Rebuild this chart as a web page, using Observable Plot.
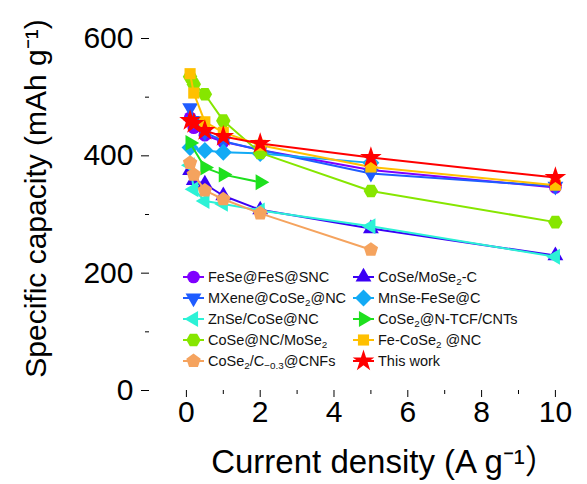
<!DOCTYPE html>
<html><head><meta charset="utf-8">
<script src="https://cdn.jsdelivr.net/npm/d3@7"></script>
<script src="https://cdn.jsdelivr.net/npm/@observablehq/plot@0.6"></script>
<style>
body{margin:0;background:#fff;}
#wrap{position:relative;width:587px;height:484px;font-family:"Liberation Sans",Arial,sans-serif;overflow:hidden}
.leg{position:absolute;display:flex;align-items:center;font-size:14.5px;white-space:nowrap;height:20px;color:#111}
.leg svg{margin-right:4px;overflow:visible}
sub{font-size:0.68em;vertical-align:-0.28em;line-height:0}
</style></head><body><div id="wrap"></div>
<script>
// ---- data ----
const rates = [0.1, 0.2, 0.5, 1, 2, 5, 10];
const feSeFeS_x = rates;             const feSeFeS_y = [465, 448, 435, 424, 410, 376, 346];
const coSeMoSe2C_x = rates;          const coSeMoSe2C_y = [375, 358, 352, 332, 308, 276, 230];
const mxene_x = rates;               const mxene_y = [482, 460, 440, 425, 410, 370, 348];
const mnSe_x = [0.1, 0.5, 1, 2, 5];  const mnSe_y = [414, 409, 406, 404, 388];
const znSe_x = rates;                const znSe_y = [384, 343, 323, 318, 307, 280, 228];
const coSe2Ntcf_x = [0.1, 0.5, 1, 2];const coSe2Ntcf_y = [422, 380, 368, 355];
const coSeNc_x = rates;              const coSeNc_y = [535, 522, 505, 460, 405, 340, 287];
const feCoSe2_x = rates;             const feCoSe2_y = [540, 507, 458, 440, 418, 381, 350];
const coSe2Cnf_x = [0.1, 0.2, 0.5, 1, 2, 5]; const coSe2Cnf_y = [388, 368, 341, 326, 302, 240];
const thisWork_x = rates;            const thisWork_y = [460, 455, 443, 433, 421, 397, 363];

const seriesNames = ["FeSe@FeS@SNC","CoSe/MoSe2-C","MXene@CoSe2@NC","MnSe-FeSe@C","ZnSe/CoSe@NC",
  "CoSe2@N-TCF/CNTs","CoSe@NC/MoSe2","Fe-CoSe2 @NC","CoSe2/C-0.3@CNFs","This work"];
const seriesLabelsHtml = ["FeSe@FeS@SNC","CoSe/MoSe<sub>2</sub>-C","MXene@CoSe<sub>2</sub>@NC","MnSe-FeSe@C","ZnSe/CoSe@NC",
  "CoSe<sub>2</sub>@N-TCF/CNTs","CoSe@NC/MoSe<sub>2</sub>","Fe-CoSe<sub>2</sub> @NC","CoSe<sub>2</sub>/C<sub>&minus;0.3</sub>@CNFs","This work"];
const seriesX = [feSeFeS_x, coSeMoSe2C_x, mxene_x, mnSe_x, znSe_x, coSe2Ntcf_x, coSeNc_x, feCoSe2_x, coSe2Cnf_x, thisWork_x];
const seriesY = [feSeFeS_y, coSeMoSe2C_y, mxene_y, mnSe_y, znSe_y, coSe2Ntcf_y, coSeNc_y, feCoSe2_y, coSe2Cnf_y, thisWork_y];
const seriesColors = ["#7F00FF","#3A00F5","#1F5CFF","#12AAF5","#2CF2D6","#1EE01E","#86E600","#FFC000","#F5A35E","#FF0000"];

const xMajor = [0, 2, 4, 6, 8, 10];
const xMinor = [1, 3, 5, 7, 9];
const yMajor = [0, 200, 400, 600];
const yMinor = [100, 300, 500];

// ---- symbols ----
function poly(n, rot, k) {
  return {draw(ctx, size) {
    const r = Math.sqrt(size / Math.PI) * k;
    for (let i = 0; i < n; i++) {
      const a = rot + 2 * Math.PI * i / n;
      const x = r * Math.cos(a), y = r * Math.sin(a);
      i ? ctx.lineTo(x, y) : ctx.moveTo(x, y);
    }
    ctx.closePath();
  }};
}
const P = Math.PI;
const seriesSymbols = [
  d3.symbolCircle, poly(3, -P/2, 1.45), poly(3, P/2, 1.45), poly(4, -P/2, 1.35),
  poly(3, P, 1.45), poly(3, 0, 1.45), poly(6, 0, 1.15), poly(4, P/4, 1.25),
  poly(5, -P/2, 1.2), d3.symbolStar
];
const seriesR = [6.3, 6.3, 6.3, 6.3, 6.3, 6.3, 6.3, 6.3, 6.3, 6.8];

const rows = [];
seriesNames.forEach((name, i) => seriesX[i].forEach((x, j) => rows.push({s: i, name, x, y: seriesY[i][j]})));

const marks = [
  Plot.axisX({ticks: xMinor, tickSize: 4, tickFormat: () => "", label: null}),
  Plot.axisX({ticks: xMajor, tickSize: 7, tickPadding: 3, line: true, label: null, fontSize: 30}),
  Plot.axisY({ticks: yMinor, tickSize: 4, tickFormat: () => "", label: null}),
  Plot.axisY({ticks: yMajor, tickSize: 8, tickPadding: 8, line: true, label: null, fontSize: 30}),
  Plot.text(["Current density (A g\u207B\u00B9\uFF09"], {frameAnchor: "bottom", lineAnchor: "middle", textAnchor: "middle", dy: 72, dx: 16, fontSize: 33,
    fontFamily: "Liberation Sans, Arial, Noto Sans CJK SC, sans-serif"}),
  Plot.text(["Specific capacity (mAh g\u207B\u00B9)"], {frameAnchor: "left", textAnchor: "middle", lineAnchor: "middle", rotate: -90, dx: -113, dy: -16, fontSize: 30})
];
seriesNames.forEach((name, i) => {
  const d = rows.filter(r => r.s === i);
  marks.push(Plot.line(d, {x: "x", y: "y", stroke: seriesColors[i], strokeWidth: 2}));
  marks.push(Plot.dot(d, {x: "x", y: "y", fill: seriesColors[i], stroke: "none", symbol: () => seriesSymbols[i], r: seriesR[i]}));
});

const plot = Plot.plot({
  width: 587, height: 484,
  marginLeft: 149, marginRight: 0, marginTop: 38, marginBottom: 94,
  style: {fontFamily: "Liberation Sans, Arial, sans-serif", fontSize: "21px", color: "#000", background: "#fff", overflow: "visible"},
  x: {domain: [-1, 10.87]},
  y: {domain: [0, 600]},
  symbol: {type: "identity"},
  marks
});
const wrap = document.getElementById("wrap");
wrap.appendChild(plot);

// ---- legend (two columns) ----
const legendOrder = [0, 2, 4, 6, 8, 1, 3, 5, 7, 9];
const colLeft = [183, 353];
const rowTop = [267, 288, 309, 330, 351];
legendOrder.forEach((si, k) => {
  const col = Math.floor(k / 5), row = k % 5;
  const div = document.createElement("div");
  div.className = "leg";
  div.style.left = colLeft[col] + "px";
  div.style.top = rowTop[row] + "px";
  const size = Math.PI * seriesR[si] * seriesR[si];
  const path = d3.symbol(seriesSymbols[si], size)();
  div.innerHTML = `<svg width="21" height="20"><line x1="0" x2="21" y1="10" y2="10" stroke="${seriesColors[si]}" stroke-width="2"/>` +
    `<path transform="translate(10.5,10)" d="${path}" fill="${seriesColors[si]}"/></svg><span>${seriesLabelsHtml[si]}</span>`;
  wrap.appendChild(div);
});
</script></body></html>
